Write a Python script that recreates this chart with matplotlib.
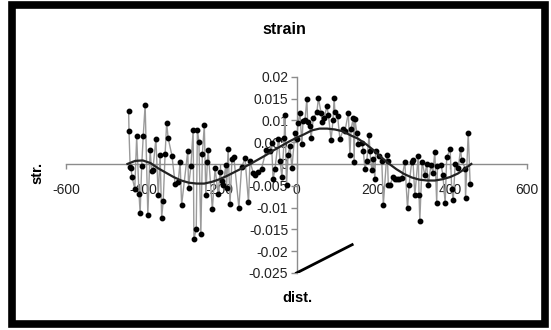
import numpy as np
import matplotlib.pyplot as plt
from matplotlib.patches import Rectangle

# =========================
# Data
# =========================
dist = [-437, -436, -433, -431, -428, -421, -416, -410, -407, -403, -399, -394,
        -387, -381, -377, -374, -366, -360, -355, -351, -347, -342, -338, -334,
        -324, -316, -308, -303, -299, -283, -281, -275, -269, -267, -261, -258,
        -254, -249, -245, -240, -236, -232, -230, -219, -212, -204, -199, -194,
        -191, -184, -182, -178, -173, -168, -163, -150, -143, -134, -125, -121,
        -113, -108, -99, -91, -79, -69, -65, -61, -56, -47, -43, -38, -32, -30,
        -26, -22, -17, -12, -4, 1, 4, 9, 14, 17, 22, 27, 29, 35, 38, 44, 53, 57,
        64, 67, 72, 79, 83, 90, 95, 98, 100, 107, 113, 122, 126, 135, 139, 142,
        148, 150, 152, 157, 161, 170, 174, 178, 183, 189, 191, 196, 200, 204,
        206, 215, 222, 226, 235, 237, 239, 243, 252, 256, 262, 267, 274, 282,
        289, 293, 300, 303, 308, 317, 319, 321, 327, 334, 339, 343, 350, 355,
        360, 365, 367, 376, 381, 387, 391, 400, 404, 408, 413, 421, 427, 430,
        439, 440, 447, 452]
strain = [0.0122, 0.0075, -0.0007, -0.0009, -0.0030, -0.0057, 0.0063, -0.0068,
          -0.0113, -0.0005, 0.0063, 0.0136, -0.0116, 0.0032, -0.0017, -0.0015,
          0.0058, -0.0072, 0.0020, -0.0123, -0.0086, 0.0023, 0.0094, 0.0059,
          0.0018, -0.0045, -0.0041, 0.0004, -0.0094, 0.0030, -0.0054, -0.0005,
          0.0078, -0.0172, -0.0149, 0.0078, 0.0051, -0.0161, 0.0023, 0.0089,
          -0.0072, 0.0004, 0.0032, -0.0104, -0.0010, -0.0068, -0.0019, -0.0040,
          -0.0048, -0.0002, -0.0055, 0.0034, -0.0091, 0.0011, 0.0015, -0.0100,
          -0.0008, 0.0013, -0.0088, 0.0007, -0.0020, -0.0026, -0.0019, -0.0011,
          0.0032, 0.0030, 0.0049, -0.0035, -0.0011, 0.0057, 0.0007, -0.0030,
          0.0060, 0.0113, -0.0049, 0.0020, 0.0041, -0.0010, 0.0072, 0.0057,
          0.0094, 0.0117, 0.0045, 0.0098, 0.0100, 0.0149, 0.0096, 0.0087,
          0.0060, 0.0106, 0.0118, 0.0151, 0.0117, 0.0096, 0.0105, 0.0132,
          0.0113, 0.0055, 0.0100, 0.0151, 0.0118, 0.0109, 0.0057, 0.0079,
          0.0075, 0.0117, 0.0020, 0.0080, 0.0106, 0.0005, 0.0103, 0.0072,
          0.0045, 0.0049, 0.0030, -0.0011, 0.0007, 0.0066, 0.0030, -0.0015,
          0.0011, -0.0034, 0.0030, 0.0019, 0.0007, -0.0094, 0.0020, 0.0007,
          -0.0049, -0.0048, -0.0030, -0.0034, -0.0035, -0.0034, -0.0033, 0.0004,
          -0.0102, -0.0048, 0.0005, 0.0010, -0.0072, 0.0019, -0.0072, -0.0130,
          0.0005, -0.0026, 0.0000, -0.0048, -0.0002, -0.0020, 0.0028, -0.0090,
          -0.0005, -0.0002, -0.0025, -0.0090, 0.0015, 0.0034, -0.0057, -0.0083,
          0.0000, -0.0010, 0.0034, 0.0010, -0.0011, -0.0079, 0.0072, -0.0045]

# smooth fit curve
fit_x = [-440, -420, -400, -380, -360, -340, -320, -300, -280, -260, -240,
         -220, -200, -180, -160, -140, -120, -100, -80, -60, -40, -20, 0, 20,
         40, 60, 80, 100, 120, 140, 160, 180, 200, 220, 240, 260, 280, 300,
         320, 340, 360, 380, 400, 420, 440, 455]
fit_y = [0.0000, 0.0007, 0.0008, 0.0002, -0.0010, -0.0020, -0.0030, -0.0038,
         -0.0043, -0.0045, -0.0045, -0.0041, -0.0035, -0.0027, -0.0018,
         -0.0009, 0.0000, 0.0010, 0.0020, 0.0031, 0.0041, 0.0051, 0.0060,
         0.0068, 0.0077, 0.0081, 0.0081, 0.0079, 0.0075, 0.0066, 0.0058,
         0.0046, 0.0032, 0.0016, 0.0001, -0.0012, -0.0023, -0.0031, -0.0036,
         -0.0038, -0.0038, -0.0035, -0.0030, -0.0022, -0.0010, 0.0000]

# straight segment at the bottom
seg_x = [0, 145]
seg_y = [-0.025, -0.0185]

xticks = [-600, -400, -200, 0, 200, 400, 600]
xlabels = ["-600", "-400", "-200", "0", "200", "400", "600"]
yticks = [0.02, 0.015, 0.01, 0.005, 0, -0.005, -0.01, -0.015, -0.02, -0.025]
ylabels = ["0.02", "0.015", "0.01", "0.005", "0", "-0.005", "-0.01",
           "-0.015", "-0.02", "-0.025"]

# =========================
# Plot
# =========================
plt.rcParams['font.family'] = ['Liberation Sans', 'DejaVu Sans']
plt.rcParams['axes.unicode_minus'] = False

W, H = 551, 330
fig = plt.figure(figsize=(W / 100, H / 100), dpi=100)
ax = fig.add_axes([66 / W, 1 - 273 / H, (527 - 66) / W, (273 - 76.7) / H])

ax.plot(dist, strain, color="#9a9a9a", lw=1.0, zorder=2)
ax.plot(dist, strain, ls="none", marker="o", ms=3.2, color="black", zorder=3)
ax.plot(fit_x, fit_y, color="#222222", lw=1.6, zorder=4)
ax.plot(seg_x, seg_y, color="black", lw=2.0, zorder=4)

ax.set_xlim(-600, 600)
ax.set_ylim(-0.025, 0.02)

ax.spines["left"].set_position(("data", 0))
ax.spines["bottom"].set_position(("data", 0))
ax.spines["right"].set_visible(False)
ax.spines["top"].set_visible(False)
for s in ("left", "bottom"):
    ax.spines[s].set_color("#8c8c8c")
    ax.spines[s].set_linewidth(1.0)

ax.set_xticks(xticks)
ax.set_xticklabels(xlabels)
ax.set_yticks(yticks)
ax.set_yticklabels(ylabels)
ax.tick_params(axis="x", direction="out", length=3.5, width=1.0,
               color="#8c8c8c", pad=10, labelsize=10, labelcolor="#222222")
ax.tick_params(axis="y", direction="out", length=4, width=1.0,
               color="#8c8c8c", pad=2, labelsize=10, labelcolor="#222222")
ax.patch.set_alpha(0)

fig.text(284 / W, 1 - 30 / H, "strain", ha="center", va="center",
         fontsize=11.5, fontweight="bold")
fig.text(297 / W, 1 - 298 / H, "dist.", ha="center", va="center",
         fontsize=10.5, fontweight="bold")
fig.text(37 / W, 1 - 173 / H, "str.", ha="center", va="center",
         fontsize=10.5, fontweight="bold", rotation=90)

# black frame around the chart
fig.add_artist(Rectangle((11.5 / W, 1 - 323.5 / H), (545 - 11.5) / W,
                         (323.5 - 5) / H, transform=fig.transFigure,
                         fill=False, lw=5.5, edgecolor="black"))

fig.savefig("out.png", dpi=100)
